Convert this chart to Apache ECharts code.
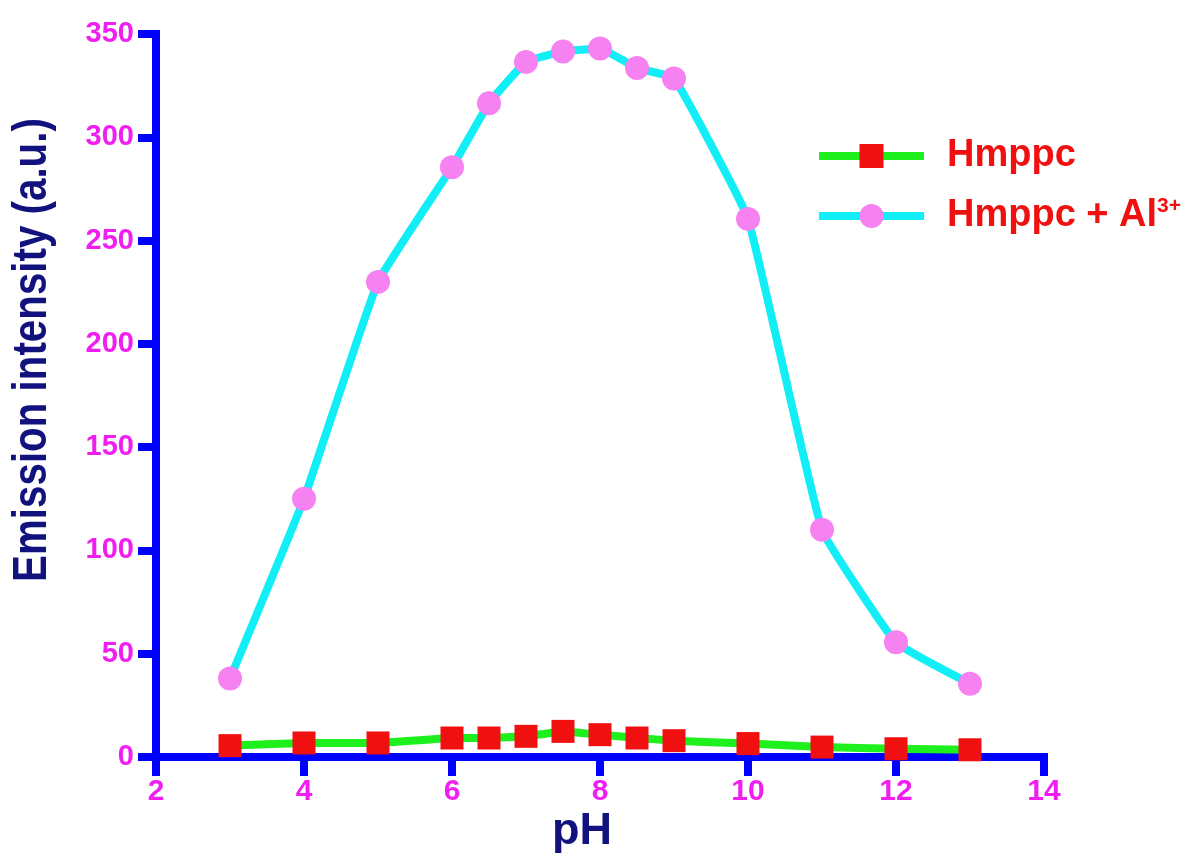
<!DOCTYPE html>
<html>
<head>
<meta charset="utf-8">
<script src="https://cdn.jsdelivr.net/npm/echarts@6/dist/echarts.min.js"></script>
<style>
html,body{margin:0;padding:0;background:#fff;}
#chart{width:1203px;height:857px;}
</style>
</head>
<body>
<div id="chart"></div>
<script>
// ---- data ----
const phValues = [3, 4, 5, 6, 6.5, 7, 7.5, 8, 8.5, 9, 10, 11, 12, 13];
const hmppc = [5.5, 6.8, 6.8, 9.2, 9.2, 10.0, 12.4, 10.8, 9.2, 7.9, 6.5, 4.8, 4.0, 3.5];
const hmppcAl = [38, 125, 230, 285.5, 316.5, 336.5, 341.5, 343, 333.5, 328.5, 260.5, 110, 55.5, 35.5];
const seriesNames = ['Hmppc', 'Hmppc + Al3+'];
const xTitle = 'pH';
const yTitle = 'Emission intensity (a.u.)';

const fontFam = '"Liberation Sans", Arial, sans-serif';
const axisBlue = '#0000ff';
const tickPink = '#f01ef0';
const navy = '#12127e';
const green = '#1ef01e';
const cyan = '#12eef5';

const chart = echarts.init(document.getElementById('chart'));
chart.setOption({
  backgroundColor: '#ffffff',
  animation: false,
  grid: {left: 156, right: 159, top: 34, bottom: 100, containLabel: false},
  xAxis: {
    type: 'value', min: 2, max: 14, interval: 2,
    axisLine: {show: true, onZero: false, lineStyle: {color: axisBlue, width: 8, cap: 'square'}},
    axisTick: {show: true, length: 19, lineStyle: {color: axisBlue, width: 8}},
    axisLabel: {color: tickPink, fontFamily: fontFam, fontWeight: 'bold', fontSize: 30, margin: 20},
    splitLine: {show: false}
  },
  yAxis: {
    type: 'value', min: 0, max: 350, interval: 50,
    axisLine: {show: true, lineStyle: {color: axisBlue, width: 8, cap: 'square'}},
    axisTick: {show: true, length: 18, lineStyle: {color: axisBlue, width: 8}},
    axisLabel: {color: tickPink, fontFamily: fontFam, fontWeight: 'bold', fontSize: 29, margin: 22},
    splitLine: {show: false}
  },
  legend: {
    orient: 'vertical', left: 815, top: 137, padding: 0,
    itemWidth: 105, itemHeight: 30, itemGap: 21,
    selectedMode: false,
    data: [
      {name: seriesNames[0], lineStyle: {width: 8, color: green}},
      {name: seriesNames[1], lineStyle: {width: 8, color: cyan}}
    ],
    lineStyle: {width: 8},
    formatter: function (name) {
      if (name === seriesNames[1]) return '{a|Hmppc + Al}{s|3+}';
      return '{a|' + name + '}';
    },
    textStyle: {
      padding: [0, 0, 0, 18],
      rich: {
        a: {color: '#f01010', fontFamily: fontFam, fontWeight: 'bold', fontSize: 38, lineHeight: 40},
        s: {color: '#f01010', fontFamily: fontFam, fontWeight: 'bold', fontSize: 21, lineHeight: 14, verticalAlign: 'top'}
      }
    }
  },
  graphic: [
    {type: 'text', x: 33, y: 350, rotation: Math.PI / 2, scaleX: 0.84,
     style: {text: yTitle, fill: navy, font: 'bold 48px ' + fontFam, align: 'center', verticalAlign: 'middle'}},
    {type: 'text', x: 582, y: 832,
     style: {text: xTitle, fill: navy, font: 'bold 45px ' + fontFam, align: 'center', verticalAlign: 'middle'}}
  ],
  series: [
    {
      name: seriesNames[0], type: 'line', smooth: 0.1,
      data: phValues.map((x, i) => [x, hmppc[i]]),
      symbol: 'rect', symbolSize: 23,
      lineStyle: {color: green, width: 8},
      itemStyle: {color: '#f01010', borderWidth: 0},
      z: 3
    },
    {
      name: seriesNames[1], type: 'line', smooth: 0.1,
      data: phValues.map((x, i) => [x, hmppcAl[i]]),
      symbol: 'circle', symbolSize: 24,
      lineStyle: {color: cyan, width: 8},
      itemStyle: {color: '#f582f0', borderWidth: 0},
      z: 4
    }
  ]
});
</script>
</body>
</html>
